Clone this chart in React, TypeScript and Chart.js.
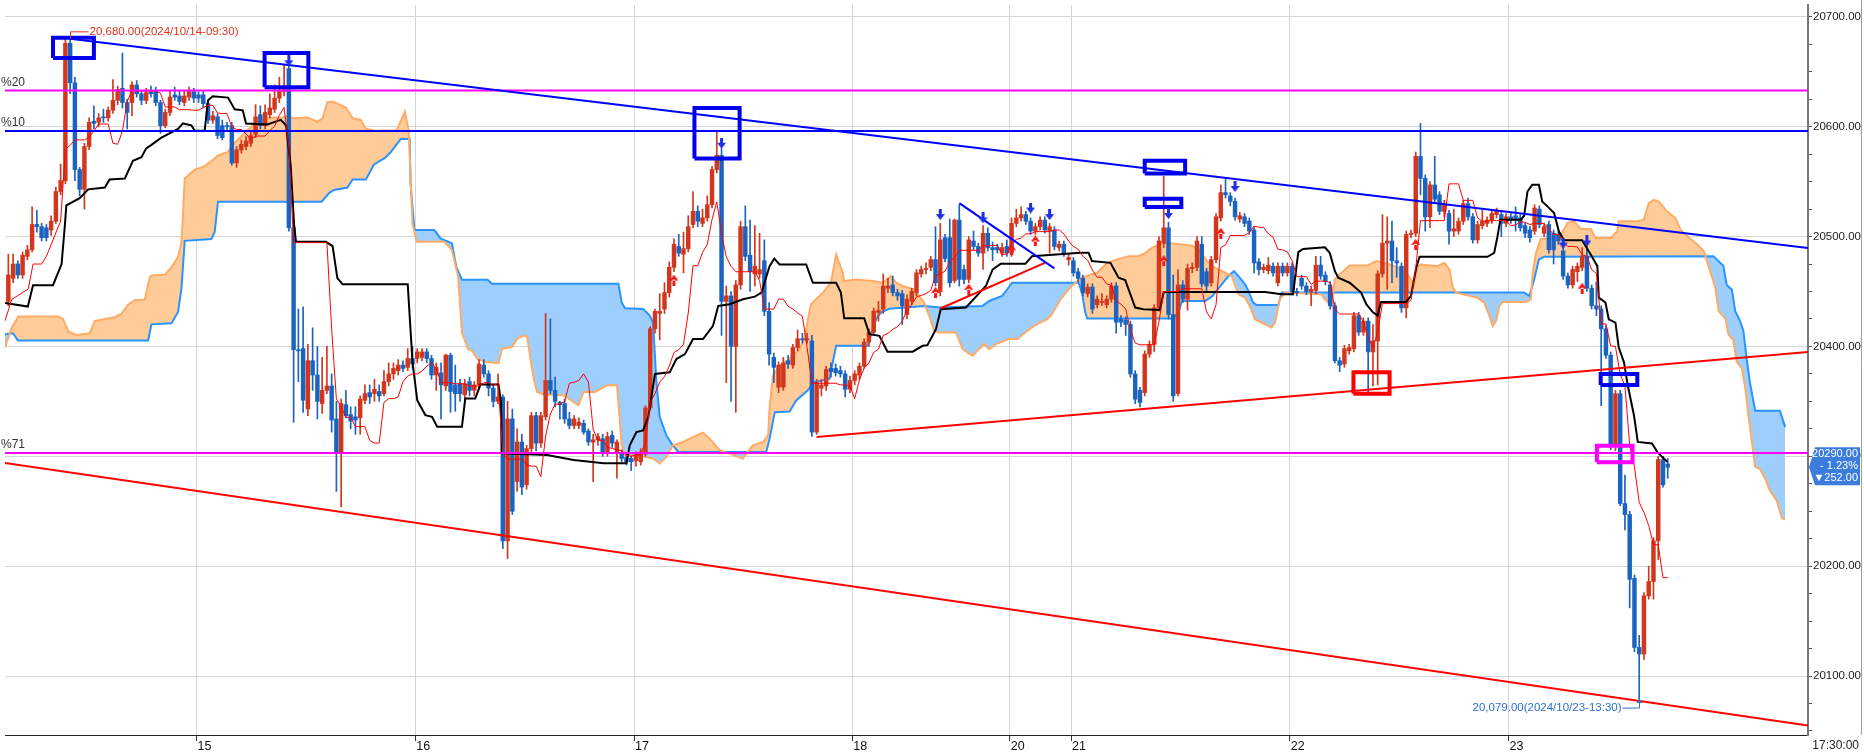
import { useEffect, useRef } from "react"
import { Chart, registerables } from "chart.js"

Chart.register(...registerables)

// 30-minute candles, bar 0 = first visible bar (10/14)
const opens = [
  20441, 20462, 20475, 20465, 20482, 20488, 20511, 20509, 20508, 20506,
  20514, 20541, 20551, 20676, 20640, 20561, 20543, 20582, 20605, 20604,
  20609, 20608, 20615, 20624, 20635, 20622, 20622, 20638, 20630, 20624,
  20632, 20632, 20622, 20601, 20613, 20629, 20628, 20622, 20627, 20632,
  20629, 20629, 20621, 20606, 20609, 20601, 20601, 20601, 20567, 20579,
  20582, 20585, 20593, 20611, 20601, 20611, 20616, 20626, 20632, 20653,
  20508, 20397, 20398, 20343, 20387, 20374, 20348, 20360, 20364, 20334,
  20304, 20347, 20338, 20336, 20335, 20351, 20358, 20357, 20359, 20357,
  20368, 20375, 20378, 20383, 20381, 20389, 20389, 20390, 20395, 20389,
  20374, 20376, 20364, 20392, 20365, 20366, 20356, 20368, 20360, 20365,
  20383, 20375, 20362, 20350, 20354, 20223, 20334, 20277, 20313, 20274,
  20307, 20337, 20312, 20336, 20369, 20360, 20349, 20348, 20334, 20328,
  20328, 20330, 20323, 20313, 20315, 20316, 20304, 20319, 20304, 20303,
  20299, 20298, 20296, 20295, 20302, 20344, 20416, 20430, 20434, 20449,
  20472, 20491, 20484, 20489, 20511, 20523, 20512, 20517, 20529, 20561,
  20574, 20441, 20446, 20400, 20456, 20509, 20483, 20466, 20466, 20478,
  20432, 20390, 20363, 20363, 20387, 20383, 20399, 20407, 20406, 20405,
  20322, 20362, 20364, 20380, 20380, 20378, 20375, 20361, 20369, 20374,
  20382, 20404, 20413, 20431, 20434, 20453, 20456, 20449, 20448, 20429,
  20441, 20449, 20466, 20470, 20472, 20479, 20450, 20499, 20499, 20460,
  20515, 20470, 20461, 20496, 20491, 20485, 20503, 20490, 20490, 20485,
  20491, 20485, 20512, 20517, 20520, 20514, 20505, 20509, 20515, 20505,
  20506, 20490, 20493, 20479, 20478, 20468, 20462, 20448, 20454, 20438,
  20440, 20438, 20443, 20455, 20425, 20424, 20420, 20375, 20360, 20358,
  20393, 20402, 20435, 20494, 20508, 20429, 20357, 20456, 20443, 20471,
  20472, 20493, 20468, 20458, 20479, 20517, 20540, 20537, 20532, 20516,
  20518, 20514, 20506, 20477, 20470, 20469, 20473, 20458, 20473, 20467,
  20473, 20450, 20462, 20455, 20450, 20451, 20474, 20465, 20456, 20437,
  20387, 20384, 20396, 20398, 20428, 20413, 20423, 20395, 20405, 20466,
  20494, 20496, 20478, 20473, 20435, 20502, 20503, 20573, 20553, 20518,
  20547, 20538, 20523, 20521, 20505, 20505, 20514, 20530, 20518, 20497,
  20510, 20512, 20515, 20520, 20520, 20512, 20518, 20519, 20517, 20510,
  20506, 20505, 20525, 20503, 20511, 20503, 20502, 20487, 20464, 20456,
  20468, 20472, 20482, 20453, 20437, 20434, 20416, 20392, 20310, 20357,
  20257, 20247, 20189, 20126, 20120, 20173, 20186, 20223, 20297, 20293,
]
const highs = [
  20484, 20484, 20478, 20486, 20492, 20527, 20524, 20512, 20511, 20519,
  20545, 20566, 20680, 20680, 20645, 20563, 20585, 20608, 20619, 20612,
  20616, 20618, 20643, 20637, 20667, 20625, 20641, 20642, 20632, 20635,
  20637, 20636, 20624, 20616, 20633, 20636, 20633, 20633, 20636, 20635,
  20632, 20632, 20624, 20614, 20612, 20606, 20604, 20604, 20582, 20588,
  20591, 20596, 20620, 20619, 20620, 20630, 20638, 20645, 20656, 20658,
  20510, 20434, 20436, 20402, 20417, 20400, 20390, 20400, 20375, 20350,
  20352, 20360, 20345, 20345, 20355, 20365, 20365, 20370, 20365, 20378,
  20385, 20385, 20388, 20387, 20398, 20400, 20398, 20398, 20398, 20392,
  20385, 20385, 20393, 20394, 20383, 20370, 20370, 20372, 20368, 20388,
  20388, 20378, 20365, 20375, 20356, 20350, 20343, 20325, 20320, 20310,
  20340, 20340, 20340, 20430, 20425, 20372, 20350, 20352, 20340, 20337,
  20335, 20333, 20325, 20320, 20321, 20320, 20322, 20323, 20315, 20306,
  20302, 20300, 20304, 20307, 20346, 20418, 20434, 20448, 20458, 20477,
  20498, 20502, 20504, 20519, 20541, 20528, 20525, 20537, 20564, 20596,
  20580, 20455, 20450, 20460, 20514, 20528, 20515, 20510, 20503, 20497,
  20440, 20394, 20386, 20390, 20392, 20402, 20415, 20412, 20412, 20410,
  20370, 20370, 20382, 20385, 20384, 20382, 20378, 20373, 20378, 20385,
  20407, 20416, 20435, 20441, 20466, 20462, 20464, 20452, 20451, 20447,
  20453, 20470, 20473, 20476, 20482, 20509, 20512, 20502, 20516, 20516,
  20529, 20474, 20500, 20505, 20494, 20510, 20508, 20495, 20493, 20494,
  20497, 20517, 20525, 20527, 20523, 20517, 20512, 20518, 20518, 20512,
  20509, 20496, 20496, 20484, 20481, 20471, 20465, 20457, 20457, 20446,
  20448, 20446, 20458, 20458, 20428, 20427, 20423, 20378, 20363, 20396,
  20405, 20438, 20500, 20555, 20513, 20465, 20470, 20460, 20475, 20476,
  20500, 20500, 20471, 20482, 20521, 20547, 20552, 20540, 20535, 20522,
  20521, 20517, 20509, 20480, 20475, 20481, 20476, 20476, 20476, 20476,
  20476, 20453, 20465, 20458, 20455, 20482, 20482, 20468, 20459, 20440,
  20390, 20401, 20402, 20431, 20431, 20426, 20426, 20420, 20469, 20520,
  20518, 20514, 20490, 20476, 20505, 20506, 20577, 20603, 20556, 20550,
  20573, 20541, 20533, 20524, 20525, 20517, 20533, 20535, 20521, 20514,
  20524, 20518, 20524, 20526, 20523, 20521, 20521, 20527, 20520, 20512,
  20509, 20529, 20528, 20512, 20514, 20506, 20505, 20490, 20467, 20473,
  20476, 20490, 20495, 20456, 20459, 20437, 20419, 20395, 20360, 20360,
  20283, 20250, 20192, 20137, 20176, 20200, 20226, 20300, 20300, 20298,
]
const lows = [
  20437, 20458, 20462, 20462, 20479, 20486, 20504, 20496, 20496, 20501,
  20512, 20538, 20548, 20630, 20551, 20537, 20525, 20579, 20598, 20600,
  20604, 20605, 20612, 20620, 20617, 20598, 20610, 20627, 20620, 20621,
  20627, 20619, 20594, 20599, 20610, 20624, 20620, 20619, 20624, 20622,
  20622, 20617, 20603, 20603, 20589, 20588, 20597, 20565, 20563, 20576,
  20579, 20582, 20590, 20598, 20598, 20608, 20613, 20622, 20628, 20505,
  20331, 20368, 20340, 20337, 20360, 20334, 20339, 20357, 20322, 20268,
  20254, 20335, 20325, 20320, 20320, 20348, 20348, 20350, 20350, 20355,
  20364, 20370, 20374, 20377, 20378, 20380, 20385, 20387, 20385, 20370,
  20360, 20334, 20360, 20340, 20341, 20350, 20350, 20355, 20355, 20362,
  20372, 20355, 20345, 20348, 20216, 20207, 20247, 20268, 20265, 20270,
  20303, 20305, 20308, 20333, 20357, 20345, 20334, 20330, 20325, 20325,
  20325, 20320, 20310, 20277, 20310, 20300, 20300, 20308, 20280, 20295,
  20292, 20287, 20291, 20292, 20300, 20342, 20412, 20406, 20430, 20445,
  20468, 20482, 20467, 20486, 20508, 20509, 20509, 20514, 20526, 20558,
  20410, 20367, 20350, 20340, 20452, 20478, 20450, 20455, 20462, 20428,
  20383, 20367, 20358, 20360, 20380, 20380, 20396, 20403, 20403, 20318,
  20320, 20355, 20360, 20372, 20373, 20372, 20354, 20358, 20365, 20370,
  20380, 20400, 20410, 20423, 20430, 20449, 20446, 20442, 20420, 20425,
  20438, 20446, 20463, 20466, 20469, 20455, 20446, 20477, 20454, 20458,
  20455, 20457, 20458, 20488, 20482, 20470, 20487, 20478, 20485, 20482,
  20482, 20482, 20509, 20514, 20511, 20502, 20502, 20506, 20503, 20485,
  20488, 20487, 20482, 20474, 20464, 20459, 20446, 20445, 20430, 20435,
  20437, 20435, 20440, 20412, 20418, 20410, 20372, 20348, 20345, 20355,
  20390, 20395, 20432, 20490, 20425, 20350, 20355, 20440, 20433, 20467,
  20469, 20454, 20450, 20455, 20476, 20514, 20535, 20528, 20515, 20513,
  20509, 20502, 20467, 20465, 20467, 20466, 20464, 20455, 20464, 20464,
  20447, 20446, 20452, 20447, 20437, 20448, 20461, 20456, 20434, 20385,
  20377, 20381, 20393, 20395, 20410, 20410, 20358, 20364, 20365, 20463,
  20452, 20458, 20463, 20431, 20426, 20499, 20500, 20538, 20505, 20508,
  20530, 20520, 20518, 20493, 20500, 20502, 20511, 20515, 20494, 20494,
  20507, 20509, 20512, 20517, 20500, 20509, 20512, 20505, 20505, 20499,
  20495, 20502, 20508, 20500, 20485, 20475, 20493, 20461, 20453, 20453,
  20459, 20469, 20450, 20434, 20428, 20346, 20389, 20306, 20305, 20255,
  20233, 20162, 20122, 20079, 20115, 20170, 20170, 20206, 20272, 20280,
]
const closes = [
  20465, 20475, 20465, 20483, 20488, 20511, 20509, 20499, 20499, 20514,
  20541, 20551, 20676, 20640, 20561, 20543, 20582, 20604, 20603, 20608,
  20608, 20615, 20624, 20634, 20622, 20613, 20638, 20630, 20624, 20631,
  20630, 20622, 20601, 20613, 20627, 20627, 20623, 20628, 20632, 20626,
  20626, 20621, 20606, 20610, 20592, 20590, 20600, 20567, 20579, 20584,
  20587, 20592, 20609, 20601, 20613, 20617, 20626, 20632, 20635, 20508,
  20397, 20396, 20351, 20387, 20374, 20350, 20360, 20364, 20333, 20304,
  20348, 20337, 20332, 20333, 20352, 20357, 20354, 20361, 20355, 20368,
  20375, 20380, 20383, 20380, 20389, 20384, 20395, 20395, 20389, 20374,
  20381, 20365, 20392, 20359, 20357, 20357, 20366, 20360, 20365, 20384,
  20375, 20362, 20350, 20354, 20223, 20334, 20250, 20313, 20272, 20307,
  20337, 20312, 20337, 20369, 20360, 20350, 20347, 20334, 20328, 20334,
  20331, 20322, 20313, 20315, 20318, 20304, 20318, 20312, 20313, 20298,
  20295, 20295, 20301, 20304, 20344, 20416, 20432, 20432, 20449, 20472,
  20493, 20485, 20489, 20509, 20523, 20514, 20517, 20529, 20561, 20574,
  20441, 20446, 20400, 20456, 20509, 20482, 20468, 20473, 20470, 20432,
  20393, 20381, 20383, 20385, 20384, 20399, 20407, 20406, 20407, 20322,
  20367, 20365, 20379, 20377, 20376, 20375, 20361, 20369, 20375, 20382,
  20404, 20413, 20432, 20433, 20455, 20455, 20449, 20446, 20437, 20443,
  20450, 20467, 20470, 20471, 20479, 20458, 20497, 20480, 20458, 20515,
  20461, 20461, 20497, 20491, 20485, 20503, 20490, 20488, 20488, 20490,
  20485, 20512, 20517, 20520, 20514, 20505, 20509, 20515, 20506, 20509,
  20491, 20493, 20485, 20481, 20467, 20462, 20449, 20454, 20434, 20443,
  20441, 20443, 20455, 20422, 20422, 20420, 20375, 20352, 20349, 20393,
  20402, 20435, 20496, 20508, 20429, 20355, 20456, 20443, 20471, 20472,
  20496, 20457, 20455, 20479, 20518, 20540, 20538, 20532, 20518, 20519,
  20512, 20505, 20476, 20470, 20472, 20474, 20467, 20473, 20467, 20473,
  20450, 20449, 20455, 20450, 20452, 20474, 20464, 20459, 20437, 20387,
  20383, 20398, 20399, 20428, 20413, 20423, 20395, 20405, 20466, 20494,
  20496, 20478, 20476, 20435, 20502, 20503, 20573, 20553, 20518, 20547,
  20534, 20523, 20530, 20505, 20507, 20514, 20530, 20518, 20497, 20511,
  20514, 20515, 20521, 20523, 20512, 20518, 20515, 20516, 20508, 20503,
  20499, 20526, 20511, 20509, 20488, 20488, 20496, 20464, 20456, 20470,
  20473, 20482, 20453, 20437, 20434, 20416, 20392, 20310, 20357, 20257,
  20247, 20188, 20126, 20120, 20173, 20186, 20223, 20297, 20274, 20290,
]

// kijun-sen (black), [bar, price] vertices
const kijun = [
  [-0.7, 20439.5], [4.1, 20436.3], [5.2, 20455.7], [9.4, 20455.7], [11.2, 20475], [11.9, 20510.7],
  [12.2, 20528.5], [15, 20535], [16.8, 20543], [20.3, 20544.7], [21.3, 20552], [24.5, 20552.8],
  [26.2, 20569], [28, 20572.2], [29, 20580.3], [30.1, 20583.5], [32.2, 20590], [35.7, 20598],
  [36.7, 20603], [38.5, 20601.3], [39.2, 20596.4], [41.3, 20596.4], [42, 20624], [43, 20627.8],
  [46.2, 20626.5], [47.6, 20615.9], [49.3, 20614.9], [50, 20603], [54.5, 20602], [57.3, 20606.2],
  [58.4, 20601.3], [59.4, 20564], [60.1, 20510.7], [60.5, 20495.2], [66.8, 20495.2], [68.2, 20491.3],
  [69.2, 20462.2], [70.3, 20456.7], [84, 20456.5], [85, 20386], [86, 20351], [87.7, 20337.5],
  [89.1, 20336], [90.2, 20327], [95.4, 20327], [96.1, 20352.6], [98.2, 20352.6], [99.3, 20365.3],
  [103.1, 20365.3], [103.6, 20349.5], [103.8, 20302.7], [113.3, 20301.2], [118.9, 20296.7],
  [125.2, 20293.7], [130, 20293.7], [130.7, 20310], [132.1, 20322], [133.5, 20323.6], [134.6, 20335.7],
  [136, 20375], [139.1, 20376.4], [140.5, 20388.5], [142.3, 20393], [144, 20406.7], [146.1, 20406.7],
  [148.2, 20418.7], [149.3, 20436.9], [151.7, 20438.4], [154.5, 20443], [157, 20445.3], [158.4, 20449],
  [160.1, 20473.1], [161.1, 20480], [162.2, 20474.6], [167.8, 20474.6], [169.2, 20458], [174.1, 20458],
  [175.1, 20449], [175.8, 20425.7], [180, 20425.7], [181.1, 20411.2], [183.2, 20409.7], [184.9, 20395.2],
  [190.2, 20395.2], [192.3, 20400.6], [193.3, 20401.2], [195.1, 20415.7], [196.1, 20433.8], [201.4, 20435.4],
  [205.6, 20455], [207, 20470], [208.7, 20475.2], [213.9, 20475.2], [215.3, 20482.2], [225.5, 20485.2],
  [227.2, 20485.2], [227.9, 20477.7], [231.8, 20476.1], [233.5, 20462.5], [234.9, 20460.4], [237, 20435.4],
  [238.7, 20433.8], [242.2, 20433.2], [243, 20449.6], [264.3, 20449.6], [267.8, 20447.5], [270.2, 20447.5],
  [271.3, 20485.8], [272.3, 20488.8], [276.9, 20490.3], [277.9, 20485.2], [279, 20468.6], [279.7, 20462.5],
  [282.1, 20458], [284.5, 20449], [285.6, 20438.4], [287, 20431], [288, 20428], [288.7, 20440.5],
  [294, 20440.5], [295, 20446], [296.1, 20471.6], [296.8, 20481.6], [311.1, 20481.6], [312.5, 20485.2],
  [313.2, 20500.3], [313.8, 20515.4], [318.1, 20515.4], [318.8, 20519], [319.5, 20541], [320.5, 20547.1],
  [321.9, 20547.1], [322.6, 20532], [323.7, 20527.5], [325.1, 20521.5], [326.1, 20504.8], [327.2, 20496.7],
  [331, 20496.7], [332.8, 20483.7], [334.2, 20473.1], [334.5, 20444.4], [335.9, 20440], [336.6, 20424.7],
  [338, 20421.7], [338.7, 20399], [339.8, 20385.5], [340.6, 20364.4], [341.9, 20337.2], [342.7, 20313.1],
  [345.7, 20311.6], [346.8, 20304], [347.8, 20299.5], [348.9, 20295],
]

// leading span A (orange edge)
const spanA = [
  [-0.7, 20399], [0.7, 20416.8], [2.1, 20427.2], [10.5, 20427.2], [11.5, 20425], [12.6, 20413.6],
  [14.3, 20410.4], [17.1, 20412], [18.2, 20423.3], [20.3, 20424.9], [22.4, 20426.6], [23.8, 20429.8],
  [25.2, 20437.9], [26.6, 20442.1], [28.7, 20442.7], [29.7, 20462.2], [30.1, 20464.7], [32.9, 20465.4],
  [34.3, 20471.9], [35.7, 20481.6], [36.4, 20494.5], [36.7, 20517.2], [37.1, 20552.8], [39.2, 20560.9],
  [41.3, 20564.1], [42.3, 20567.3], [44.1, 20573.8], [46.2, 20577], [47.2, 20583.5], [48.3, 20588.4],
  [51, 20599.7], [52.4, 20604.5], [54.2, 20607.8], [55.9, 20608.4], [57.3, 20607.8], [58.4, 20609.4],
  [60.1, 20607.8], [62.9, 20608.4], [65, 20604.5], [66.1, 20607.8], [67.1, 20622.3], [68.2, 20623],
  [71, 20617.5], [72.4, 20607.8], [74.1, 20606.2], [75.2, 20598.1], [77.1, 20596.3], [81.7, 20596.9],
  [83.4, 20613.8], [84.2, 20596.3], [85, 20512], [85.9, 20495.3], [91.7, 20495.3], [93.3, 20487.8],
  [94.6, 20463.7], [95.4, 20412.5], [96.7, 20397.4], [97.5, 20396.4], [98.6, 20388.8], [100.3, 20385.8],
  [103.1, 20384.9], [103.8, 20397.9], [105.9, 20399.4], [107, 20406.9], [108.4, 20410], [109.1, 20409.1],
  [109.8, 20388.8], [110.5, 20370.7], [111.2, 20358.6], [112.6, 20356.2], [116.8, 20355.6], [119.9, 20346.5],
  [121, 20358.6], [123.4, 20358.6], [125.9, 20364.7], [128, 20364.7], [128.3, 20349.5], [129, 20310.3],
  [129.7, 20301.2], [133.5, 20299.7], [135.6, 20298], [137, 20293.4], [138.4, 20299.4], [139.8, 20310],
  [141.9, 20313], [144.7, 20319], [146.1, 20321.5], [147.5, 20316], [149.6, 20305.5], [151.7, 20302.4],
  [154.5, 20297.9], [155.2, 20302.4], [156.6, 20310], [158.7, 20313], [159.8, 20319], [160.1, 20343.2],
  [160.8, 20373.4], [162.2, 20382.5], [164.3, 20388.5], [166.4, 20397.6], [167.4, 20406.7], [168.8, 20438.4],
  [171.3, 20449], [173, 20458], [174.1, 20483.7], [175.5, 20467.1], [175.8, 20459.5], [178.3, 20461],
  [181.8, 20459.5], [183.9, 20458], [185.6, 20464.1], [186.7, 20458], [188.1, 20455], [190.5, 20452],
  [192.6, 20439.9], [193.7, 20427.8], [194.7, 20414.2], [195.8, 20412.7], [199.3, 20412.7], [200.7, 20397.6],
  [202.8, 20391.6], [203.8, 20396.1], [205.2, 20402.1], [206.3, 20397.6], [207.7, 20402.1], [210.4, 20406.7],
  [212.2, 20406.7], [213.9, 20412.7], [215.7, 20418.7], [217.4, 20422.4], [218.5, 20424.8], [219.5, 20429.3],
  [221.3, 20442.9], [223, 20452], [224.4, 20458], [225.8, 20462.5], [227.6, 20465.6], [229, 20467.1],
  [231.1, 20476.1], [233.2, 20479.2], [235.6, 20482.2], [237.7, 20482.2], [239.1, 20485.2], [240.5, 20489.7],
  [242.6, 20493.7], [244.7, 20493.7], [246.8, 20492.8], [248.9, 20491.8], [250.3, 20488.2], [252.4, 20476.1],
  [253.8, 20471.6], [255.9, 20467.1], [257.3, 20464.1], [258.7, 20447.4], [260.1, 20444.4], [261.1, 20436.9],
  [262.2, 20424.8], [263.6, 20421.8], [265.7, 20417.2], [266.4, 20421.8], [267.4, 20442.9], [268.5, 20449],
  [276.2, 20447.4], [276.9, 20442.9], [278.3, 20436.9], [279, 20461], [280, 20465.6], [282.1, 20473.7],
  [285.9, 20473.7], [287.7, 20477.7], [289.4, 20476.1], [291.5, 20473.1], [293.6, 20468.6], [295, 20461],
  [295.7, 20456.5], [296.4, 20473.1], [297.1, 20474.6], [300.6, 20473.1], [302, 20476.1], [303.1, 20470.1],
  [303.8, 20453.5], [304.5, 20449], [309, 20444.4], [310.4, 20439.9], [311.5, 20427.8], [312.2, 20418.7],
  [312.9, 20423.3], [313.6, 20436.9], [314.3, 20440.5], [319.2, 20440.5], [320.2, 20442.9], [320.6, 20467.1],
  [321.3, 20485.2], [322.3, 20497.9], [325.8, 20498.8], [327.2, 20506.3], [327.9, 20512.4], [329.3, 20513.9],
  [330.7, 20507], [332.8, 20507], [333.8, 20498.8], [337, 20498.8], [338.4, 20504.8], [338.7, 20513.9],
  [342.6, 20513.9], [344, 20515.4], [345, 20530.5], [346.1, 20533.5], [347.1, 20532], [348.5, 20524.5],
  [350.6, 20516.9], [351.7, 20506.3], [353.1, 20500.3], [355.2, 20492.8], [356.6, 20486.7], [357.6, 20473.1],
  [359, 20453.8], [359.7, 20432], [361.1, 20425.5], [361.8, 20410.3], [362.8, 20405.9], [363.5, 20386.3],
  [364.6, 20379.8], [365.3, 20362.3], [366, 20336.2], [367.4, 20290.4], [368.4, 20288.3], [369.5, 20279.5],
  [370.5, 20268.7], [371.9, 20259.9], [373, 20243.8], [373.7, 20242.5],
]

// leading span B (blue edge)
const spanB = [
  [-0.7, 20411], [1, 20412], [2, 20405.5], [29.4, 20405.5], [30.1, 20420.1], [34.3, 20421.1],
  [35.7, 20431.4], [36.4, 20452.4], [37.1, 20496.1], [42.7, 20497.8], [43.4, 20504.2], [44.1, 20531.7],
  [65.9, 20531.7], [67.5, 20539.8], [68.5, 20542.4], [71.3, 20544.7], [72.4, 20552], [75.2, 20552],
  [76.9, 20565.7], [79.2, 20571.6], [80.4, 20576.7], [82.5, 20588.8], [84.4, 20588.8], [84.6, 20548],
  [85.4, 20506], [89.6, 20505.9], [90.9, 20498.4], [93.3, 20493.8], [94.2, 20472.7], [95.4, 20460.7],
  [100.8, 20460.7], [101.7, 20457.1], [128.3, 20457.1], [129, 20440], [129.7, 20434.7], [133.5, 20434.1],
  [134.9, 20428.1], [135.6, 20421.8], [136.3, 20367.4], [137, 20335.7], [138.4, 20319], [139.5, 20311.5],
  [140.9, 20304], [159.4, 20304], [160.1, 20316], [161.2, 20340.2], [164.3, 20340.8], [165.7, 20350.8],
  [168.1, 20359.8], [169.5, 20367.4], [172.7, 20370.4], [174.1, 20400.6], [180.7, 20400.6], [182.5, 20424.8],
  [183.5, 20430.8], [185.3, 20434.4], [192.6, 20436.9], [196.1, 20435.4], [204.9, 20436.9], [206.3, 20441.4],
  [209, 20445.9], [210.1, 20452], [211.1, 20458], [225.1, 20458], [225.8, 20449], [226.5, 20430.8],
  [226.9, 20425.4], [245, 20425.4], [246.1, 20430.8], [246.8, 20441.4], [251.7, 20441.4], [253.1, 20445.3],
  [255.2, 20456.5], [256.6, 20464.1], [257.8, 20468.6], [258.7, 20464.1], [260.1, 20456.5], [260.8, 20450.5],
  [261.8, 20439.9], [262.5, 20437.8], [267.1, 20437.8], [267.8, 20449], [318.8, 20449], [319.9, 20445.9],
  [320.9, 20461], [321.9, 20479.2], [323, 20481.6], [358.6, 20482.2], [360.7, 20473.4], [361.4, 20456],
  [362.5, 20451.6], [363.2, 20432], [364.2, 20423.3], [364.9, 20414.6], [365.6, 20388.5], [366.3, 20366.7],
  [367.4, 20341.4], [372.6, 20341.4], [373.7, 20326.6],
]

// tenkan-sen before bar 8 (rest comes from the 9-bar high/low of the candles)
const tenkanHead = [[-0.7, 20423.3], [0.7, 20442.7], [4.2, 20452.4], [5.2, 20475], [7, 20475]]

const dayTicks = [39.6, 85.6, 131.6, 177.5, 210.6, 223.5, 269.5, 315.5]
const dayLabels = ["15", "16", "17", "18", "20", "21", "22", "23"]
const priceTicks = [
  20050, 20075, 20100, 20125, 20150, 20175, 20200, 20225, 20250, 20275, 20300, 20325, 20350, 20375,
  20400, 20425, 20450, 20475, 20500, 20525, 20550, 20575, 20600, 20625, 20650, 20675, 20700,
]

const levelValues = [20633, 20596, 20303]
const levelLabels = ["%20", "%10", "%71"]
const levelColors = ["#ff00ff", "#0000ff", "#ff00ff"]

const trendStarts = [[13, 20680], [170, 20317.5], [-0.7, 20294], [200, 20530.5], [196, 20434.5]]
const trendEnds = [[378.5, 20489.5], [378.5, 20395], [378.5, 20055], [220, 20471], [218, 20476]]
const trendColors = ["#0000ff", "#ff0000", "#ff0000", "#0000ff", "#ff0000"]

// boxes: [bar from, bar to, price low, price high]
const boxes = [
  [9.4, 18.0, 20662.5, 20681],
  [53.9, 63.1, 20636, 20667],
  [144.3, 153.8, 20571, 20617],
  [239, 247.5, 20557.5, 20569],
  [239, 246.7, 20527, 20534.5],
  [282.9, 290.5, 20357, 20376.5],
  [334.9, 342.6, 20365, 20375],
  [334.1, 341.6, 20294.6, 20309.6],
]
const boxColors = ["#0000ee", "#0000ee", "#0000ee", "#0000ee", "#0000ee", "#ff0000", "#0000ee", "#ff00ff"]

const downArrows = [
  [59, 20660], [150, 20585], [196, 20520], [205, 20517], [215, 20526], [219, 20520],
  [244, 20521], [258, 20545.6], [327, 20494], [332, 20496],
]
const upArrows = [
  [140, 20460.4], [195, 20449], [202, 20452], [211, 20488], [216, 20496], [243, 20478],
  [255, 20503], [296, 20493], [331, 20453],
]

const highNote = { bar: 13, price: 20680, text: "20,680.00(2024/10/14-09:30)" }
const lowNote = { bar: 343, price: 20079, text: "20,079.00(2024/10/23-13:30)" }
const lastPrice = 20290
const tagLines = ["20290.00", "- 1.23%", "\u25BC252.00"]
const timeLabel = "17:30:00"

const X_MIN = -0.7
const X_MAX = 378.5
const Y_MIN = 20046.3
const Y_MAX = 20710.8
const UP = "#d2361c"
const DOWN = "#1b63c1"
const GRID = "#d6d6d6"
const FONT = "'Liberation Sans', Arial, sans-serif"

function makeArrow(color: string, down: boolean) {
  const c = document.createElement("canvas")
  c.width = 9
  c.height = 11
  const g = c.getContext("2d")!
  g.fillStyle = color
  g.beginPath()
  if (down) {
    g.rect(3, 0, 3, 6)
    g.moveTo(0, 5)
    g.lineTo(9, 5)
    g.lineTo(4.5, 11)
  } else {
    g.rect(3, 5, 3, 6)
    g.moveTo(0, 6)
    g.lineTo(9, 6)
    g.lineTo(4.5, 0)
  }
  g.closePath()
  g.fill()
  return c
}

const overlay = {
  id: "overlay",
  afterDatasetsDraw(chart: any) {
    const { ctx } = chart
    const xs = chart.scales.x
    const ys = chart.scales.y
    const bottom = chart.chartArea.bottom
    ctx.save()

    // day labels, just right of each day line
    ctx.font = `12.5px ${FONT}`
    ctx.fillStyle = "#111"
    ctx.textAlign = "left"
    ctx.textBaseline = "top"
    dayTicks.forEach((t, i) => ctx.fillText(dayLabels[i], xs.getPixelForValue(t) + 1, bottom + 5))

    // level labels at the left edge
    ctx.font = `12px ${FONT}`
    ctx.fillStyle = "#333"
    ctx.textBaseline = "bottom"
    levelValues.forEach((v, i) => ctx.fillText(levelLabels[i], 1, ys.getPixelForValue(v) - 2))

    // high note
    ctx.lineWidth = 1
    let ax = Math.round(xs.getPixelForValue(highNote.bar)) + 0.5
    let ay = ys.getPixelForValue(highNote.price)
    ctx.strokeStyle = "#e2331f"
    ctx.beginPath()
    ctx.moveTo(ax, ay)
    ctx.lineTo(ax, ay - 7)
    ctx.lineTo(ax + 18, ay - 7)
    ctx.stroke()
    ctx.font = `11.5px ${FONT}`
    ctx.fillStyle = "#e2331f"
    ctx.textBaseline = "middle"
    ctx.fillText(highNote.text, ax + 19, ay - 7)

    // low note
    ax = Math.round(xs.getPixelForValue(lowNote.bar)) + 0.5
    ay = ys.getPixelForValue(lowNote.price)
    ctx.strokeStyle = "#2d6fd3"
    ctx.beginPath()
    ctx.moveTo(ax, ay)
    ctx.lineTo(ax, ay + 9)
    ctx.lineTo(ax - 17, ay + 9)
    ctx.stroke()
    ctx.fillStyle = "#2d6fd3"
    ctx.beginPath()
    ctx.moveTo(ax - 3, ay + 4)
    ctx.lineTo(ax + 3, ay + 4)
    ctx.lineTo(ax, ay)
    ctx.closePath()
    ctx.fill()
    ctx.textAlign = "right"
    ctx.fillText(lowNote.text, ax - 18, ay + 9)

    // right panel border
    ctx.strokeStyle = "#a0a0a0"
    ctx.beginPath()
    ctx.moveTo(1861.5, 0)
    ctx.lineTo(1861.5, bottom)
    ctx.stroke()

    // last price tag
    const py = ys.getPixelForValue(lastPrice)
    ctx.fillStyle = "#3b7ddd"
    ctx.beginPath()
    ctx.moveTo(1809, py)
    ctx.lineTo(1815, py - 20)
    ctx.lineTo(1860, py - 20)
    ctx.lineTo(1860, py + 18)
    ctx.lineTo(1815, py + 18)
    ctx.closePath()
    ctx.fill()
    ctx.fillStyle = "#ffffff"
    ctx.font = `11px ${FONT}`
    ctx.textAlign = "right"
    tagLines.forEach((t, i) => ctx.fillText(t, 1858, py - 13 + i * 12))

    // time label under the price axis
    ctx.fillStyle = "#222"
    ctx.font = `12px ${FONT}`
    ctx.fillText(timeLabel, 1859, 746)
    ctx.restore()
  },
}

export default function App() {
  const canvasRef = useRef<HTMLCanvasElement>(null)
  const chartRef = useRef<Chart | null>(null)

  useEffect(() => {
    document.body.style.margin = "0"
    if (!canvasRef.current) return
    if (chartRef.current) chartRef.current.destroy()

    const pts = (arr: number[][]) => arr.map(([x, y]) => ({ x, y }))

    const tenkan = [...pts(tenkanHead)]
    for (let i = 8; i < closes.length; i++) {
      let hi = -Infinity
      let lo = Infinity
      for (let k = i - 8; k <= i; k++) {
        hi = Math.max(hi, highs[k])
        lo = Math.min(lo, lows[k])
      }
      tenkan.push({ x: i, y: (hi + lo) / 2 })
    }

    const candleColors = opens.map((o, i) => (closes[i] >= o ? UP : DOWN))
    const bodies = opens.map((o, i) => ({ x: i, y: [Math.min(o, closes[i]), Math.max(o, closes[i])] }))
    const wicks = opens.map((_, i) => ({ x: i, y: [lows[i], highs[i]] }))

    const plain = { pointRadius: 0, fill: false, tension: 0, spanGaps: true }

    const datasets: any[] = [
      { type: "line", data: pts(spanB), borderColor: "#2a93ff", borderWidth: 2, order: 100, ...plain },
      {
        type: "line",
        data: pts(spanA),
        borderColor: "#ffab66",
        borderWidth: 2,
        order: 99,
        ...plain,
        fill: { target: 0, above: "#ffcc99", below: "#9ecefc" },
      },
      {
        type: "bar",
        data: wicks,
        backgroundColor: candleColors,
        grouped: false,
        barPercentage: 1,
        categoryPercentage: 1,
        maxBarThickness: 1,
        order: 60,
      },
      {
        type: "bar",
        data: bodies,
        backgroundColor: candleColors,
        grouped: false,
        barPercentage: 1,
        categoryPercentage: 1,
        maxBarThickness: 3.8,
        minBarLength: 1,
        order: 59,
      },
      { type: "line", data: pts(kijun), borderColor: "#000000", borderWidth: 2, order: 40, ...plain },
      { type: "line", data: tenkan, borderColor: "#ff0000", borderWidth: 1, order: 39, ...plain },
    ]

    levelValues.forEach((v, i) =>
      datasets.push({
        type: "line",
        data: [{ x: X_MIN, y: v }, { x: X_MAX, y: v }],
        borderColor: levelColors[i],
        borderWidth: 2,
        order: 20,
        ...plain,
      })
    )
    trendStarts.forEach((s, i) =>
      datasets.push({
        type: "line",
        data: pts([s, trendEnds[i]]),
        borderColor: trendColors[i],
        borderWidth: 2,
        order: 19,
        ...plain,
      })
    )
    boxes.forEach(([x1, x2, y1, y2], i) =>
      datasets.push({
        type: "line",
        data: pts([[x1, y1], [x2, y1], [x2, y2], [x1, y2], [x1, y1]]),
        borderColor: boxColors[i],
        borderWidth: 4,
        borderJoinStyle: "miter",
        order: 10,
        ...plain,
      })
    )
    datasets.push({
      type: "line",
      data: pts(downArrows),
      showLine: false,
      pointStyle: makeArrow("#1f2fe6", true),
      order: 5,
    })
    datasets.push({
      type: "line",
      data: pts(upArrows),
      showLine: false,
      pointStyle: makeArrow("#f01818", false),
      order: 5,
    })

    chartRef.current = new Chart(canvasRef.current, {
      type: "line",
      data: { datasets },
      plugins: [overlay],
      options: {
        animation: false,
        responsive: true,
        maintainAspectRatio: false,
        events: [],
        layout: { padding: 0 },
        plugins: {
          legend: { display: false },
          tooltip: { enabled: false },
          filler: { drawTime: "beforeDatasetsDraw" },
        },
        scales: {
          x: {
            type: "linear",
            min: X_MIN,
            max: X_MAX,
            offset: false,
            afterBuildTicks: (scale: any) => {
              scale.ticks = dayTicks.map((value) => ({ value }))
            },
            afterFit: (scale: any) => {
              scale.height = 20
              scale.paddingLeft = 0
              scale.paddingRight = 0
            },
            grid: { color: GRID, tickColor: "#333", tickLength: 6, offset: false },
            border: { color: "#222", width: 1 },
            ticks: { display: false },
          },
          y: {
            type: "linear",
            position: "right",
            min: Y_MIN,
            max: Y_MAX,
            afterBuildTicks: (scale: any) => {
              scale.ticks = priceTicks.map((value) => ({ value }))
            },
            afterFit: (scale: any) => {
              scale.width = 56
              scale.paddingTop = 0
              scale.paddingBottom = 0
            },
            grid: {
              color: (c: any) => (c.tick && c.tick.value % 100 === 0 ? GRID : "rgba(0,0,0,0)"),
              tickColor: "#555",
              tickLength: 4,
            },
            border: { color: "#777", width: 2 },
            ticks: {
              autoSkip: false,
              padding: 1,
              color: "#222",
              font: { family: FONT, size: 11.5 },
              callback: (v: any) => (Number(v) % 100 === 0 ? Number(v).toFixed(2) : ""),
            },
          },
        },
      },
    } as any)

    return () => {
      if (chartRef.current) {
        chartRef.current.destroy()
        chartRef.current = null
      }
    }
  }, [])

  return (
    <div style={{ position: "relative", width: 1864, height: 755 }}>
      <canvas ref={canvasRef} />
    </div>
  )
}
